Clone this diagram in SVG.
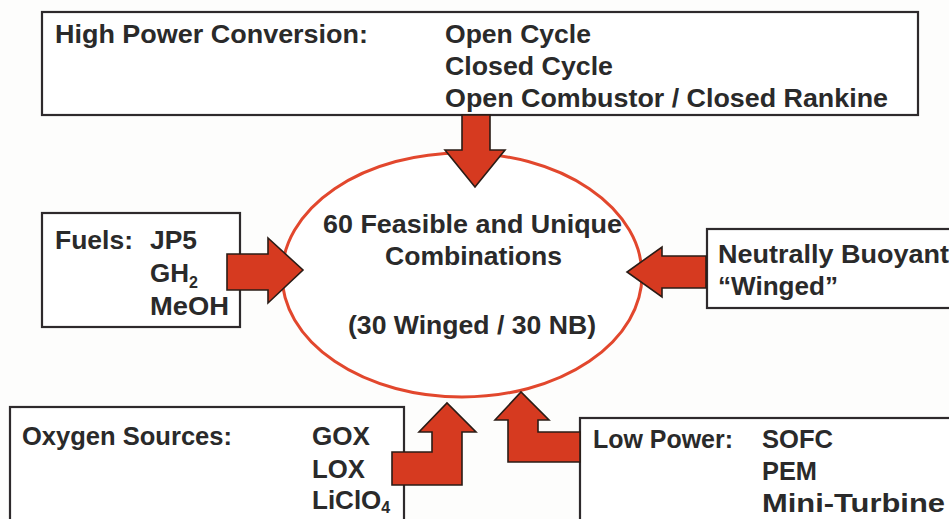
<svg xmlns="http://www.w3.org/2000/svg" width="949" height="519" viewBox="0 0 949 519">
<style>
.box{fill:#fff;stroke:#2e2a2c;stroke-width:2.2}
.t{font-family:"Liberation Sans",Arial,sans-serif;font-weight:bold;font-size:26px;fill:#2a2a2a}
.sub{font-size:16px}
.arr{fill:#d63a20;stroke:#2a1c16;stroke-width:1.6;stroke-linejoin:miter}
</style>
<rect width="949" height="519" fill="#fdfdfc"/>
<g id="center">
<ellipse cx="462" cy="275" rx="180" ry="122" fill="#fff" stroke="#e2472d" stroke-width="3"/>
<text class="t" x="323" y="233" textLength="299" lengthAdjust="spacingAndGlyphs">60 Feasible and Unique</text>
<text class="t" x="385" y="265" textLength="177" lengthAdjust="spacingAndGlyphs">Combinations</text>
<text class="t" x="348" y="334" textLength="248" lengthAdjust="spacingAndGlyphs">(30 Winged / 30 NB)</text>
</g>
<g id="highpower">
<rect class="box" x="42" y="12" width="876" height="103"/>
<text class="t" x="55" y="43" textLength="313" lengthAdjust="spacingAndGlyphs">High Power Conversion:</text>
<text class="t" x="445" y="43" textLength="146" lengthAdjust="spacingAndGlyphs">Open Cycle</text>
<text class="t" x="445" y="75" textLength="168" lengthAdjust="spacingAndGlyphs">Closed Cycle</text>
<text class="t" x="445" y="107" textLength="443" lengthAdjust="spacingAndGlyphs">Open Combustor / Closed Rankine</text>
</g>
<g id="fuels">
<rect class="box" x="42" y="213" width="198" height="114"/>
<text class="t" x="55" y="249" textLength="78" lengthAdjust="spacingAndGlyphs">Fuels:</text>
<text class="t" x="150" y="249" textLength="47" lengthAdjust="spacingAndGlyphs">JP5</text>
<text class="t" x="150" y="282">GH<tspan class="sub" dy="6">2</tspan></text>
<text class="t" x="150" y="315" textLength="79" lengthAdjust="spacingAndGlyphs">MeOH</text>
</g>
<g id="buoyant">
<rect class="box" x="707" y="229" width="260" height="79"/>
<text class="t" x="718" y="263" textLength="231" lengthAdjust="spacingAndGlyphs">Neutrally Buoyant</text>
<text class="t" x="718" y="295" textLength="120" lengthAdjust="spacingAndGlyphs">“Winged”</text>
</g>
<g id="oxygen">
<rect class="box" x="10" y="407" width="394" height="130"/>
<text class="t" x="22" y="445" textLength="210" lengthAdjust="spacingAndGlyphs">Oxygen Sources:</text>
<text class="t" x="312" y="445" textLength="58" lengthAdjust="spacingAndGlyphs">GOX</text>
<text class="t" x="312" y="478" textLength="53" lengthAdjust="spacingAndGlyphs">LOX</text>
<text class="t" x="312" y="509">LiClO<tspan class="sub" dy="4">4</tspan></text>
</g>
<g id="lowpower">
<rect class="box" x="580" y="418" width="390" height="120"/>
<text class="t" x="593" y="448" textLength="140" lengthAdjust="spacingAndGlyphs">Low Power:</text>
<text class="t" x="762" y="448" textLength="71" lengthAdjust="spacingAndGlyphs">SOFC</text>
<text class="t" x="762" y="480" textLength="55" lengthAdjust="spacingAndGlyphs">PEM</text>
<text class="t" x="762" y="512" textLength="183" lengthAdjust="spacingAndGlyphs">Mini-Turbine</text>
</g>
<g id="connectors">
<path class="arr" d="M462,115 L490,115 L490,150 L505,150 L475,187 L445,150 L462,150 Z"/>
<path class="arr" d="M227,254 L268,254 L268,238 L303,270 L268,303 L268,290 L227,290 Z"/>
<path class="arr" d="M706,256 L662,256 L662,247 L627,272 L662,297 L662,288 L706,288 Z"/>
<path class="arr" d="M392,452 L432,452 L432,432 L419,432 L447,403 L476,432 L462,432 L462,485 L392,485 Z"/>
<path class="arr" d="M580,432 L538,432 L538,420 L549,420 L521,392 L495,420 L508,420 L508,462 L580,462 Z"/>
</g>
</svg>
